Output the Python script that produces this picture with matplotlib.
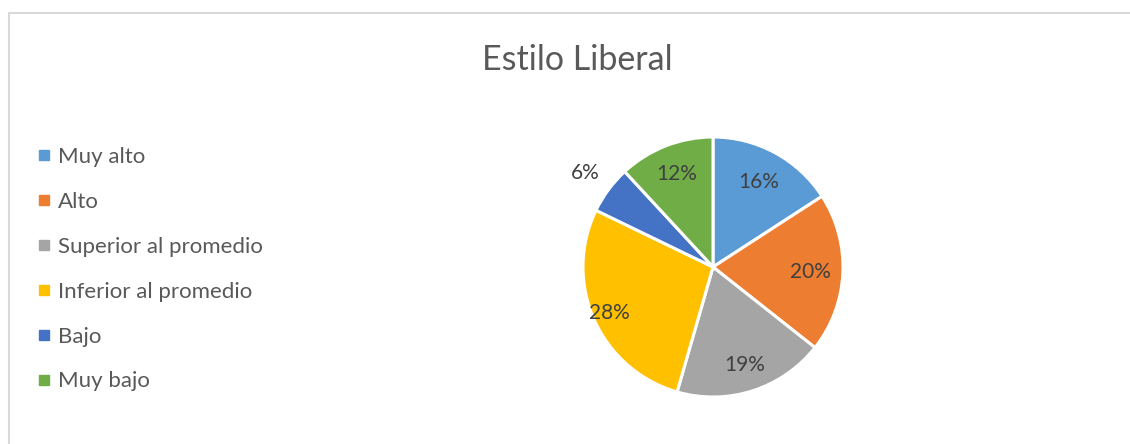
import numpy as np
import matplotlib
matplotlib.use("Agg")
import matplotlib.pyplot as plt
from matplotlib.lines import Line2D
from matplotlib.patches import Rectangle

plt.rcParams['font.family'] = ['Lato', 'DejaVu Sans']

title = "Estilo Liberal"
categories = ["Muy alto", "Alto", "Superior al promedio", "Inferior al promedio", "Bajo", "Muy bajo"]
values = [16, 20, 19, 28, 6, 12]
colors = ["#5B9BD5", "#ED7D31", "#A5A5A5", "#FFC000", "#4472C4", "#70AD47"]
# radial position of each percentage label (fraction of the radius)
label_dist = [0.74, 0.75, 0.79, 0.87, 1.22, 0.77]

W, H = 1130, 444
fig = plt.figure(figsize=(W / 100, H / 100), dpi=100)

# light frame (right and bottom edges fall outside the picture)
fig.add_artist(Rectangle((8.5 / W, -0.1), 1.2, (H - 13.5) / H + 0.1,
                         transform=fig.transFigure, fill=False,
                         edgecolor="#D9D9D9", lw=1.5))

cx, cy, r = 713, 444 - 267, 130
ax = fig.add_axes([(cx - r) / W, (cy - r) / H, 2 * r / W, 2 * r / H])
wedges, texts, autotexts = ax.pie(values, colors=colors, startangle=90, counterclock=False,
                                  autopct="%.0f%%", pctdistance=0.73,
                                  wedgeprops=dict(edgecolor="white", linewidth=2.2),
                                  textprops=dict(color="#404040", fontsize=15))
ax.set_xlim(-1, 1)
ax.set_ylim(-1, 1)
ax.set_aspect("equal")

for w, t, d in zip(wedges, autotexts, label_dist):
    ang = np.deg2rad((w.theta1 + w.theta2) / 2)
    t.set_position((d * np.cos(ang), d * np.sin(ang)))

fig.text(577 / W, 1 - 60 / H, title, ha="center", va="center", fontsize=24.5, color="#595959")

handles = [Line2D([], [], marker="s", linestyle="none", markersize=7,
                  markerfacecolor=c, markeredgecolor=c) for c in colors]
fig.legend(handles, categories, loc="upper left", bbox_to_anchor=(37 / W, 1 - 147 / H),
           frameon=False, fontsize=16, labelcolor="#595959", labelspacing=1.12,
           handlelength=0.6, handletextpad=0.35, borderpad=0, borderaxespad=0)

fig.savefig("out.png", dpi=100)
